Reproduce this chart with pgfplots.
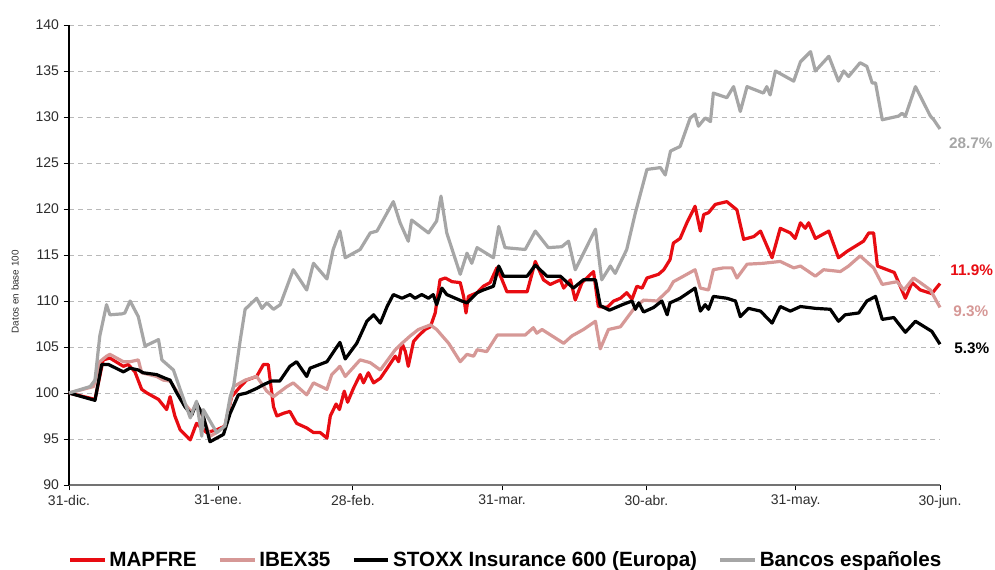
\documentclass[border=0pt]{standalone}
\usepackage{fontspec}
\setmainfont{Liberation Sans}
\usepackage{pgfplots}
\pgfplotsset{compat=1.18}
\definecolor{mapfre}{RGB}{232,12,18}
\definecolor{ibex}{RGB}{214,152,150}
\definecolor{stoxx}{RGB}{0,0,0}
\definecolor{bancos}{RGB}{166,166,166}
\definecolor{gridc}{RGB}{185,185,185}
\definecolor{txt}{RGB}{45,45,45}
\begin{document}
\begin{tikzpicture}
\path[use as bounding box] (0pt,0pt) rectangle (746.25pt,427.5pt);
\begin{axis}[
  at={(51.75pt,63.75pt)}, anchor=south west,
  scale only axis, width=653.25pt, height=345pt,
  xmin=0, xmax=181, ymin=90, ymax=140,
  enlargelimits=false, clip=false,
  axis x line*=bottom, axis y line*=left,
  x axis line style={-, draw=black!55, line width=0.8pt},
  y axis line style={-, draw=black, line width=0.8pt},
  tick align=outside, major tick length=4pt,
  every tick/.style={black, line width=0.7pt},
  xtick={0,31,59,90,120,151,181},
  xticklabels={31-dic.,31-ene.,28-feb.,31-mar.,30-abr.,31-may.,30-jun.},
  ytick={90,95,...,140},
  ymajorgrids, grid style={gridc, line width=0.6pt, dash pattern=on 3.8pt off 3pt},
  /pgf/number format/assume math mode=true,
  tick label style={font=\fontsize{10.5}{12}\selectfont, text=txt},
  ylabel={Datos en base 100},
  ylabel style={at={(axis description cs:-0.062,0.42)}, anchor=center, font=\fontsize{7.4}{8.5}\selectfont, text=txt},
  legend style={at={(0.5017,-0.163)}, anchor=center, draw=none, fill=none,
    font=\bfseries\fontsize{15.5}{17}\selectfont,
    /tikz/every even column/.append style={column sep=14pt}},
  legend columns=4, legend cell align=left,
  legend image code/.code={\draw[#1, line width=3pt] (0pt,0pt) -- (26pt,0pt);},
  every axis plot/.append style={line width=2.4pt, line join=round, no marks},
]
\addplot[mapfre] coordinates {
(0,100) (5.4,99.3) (7.1,103.6) (8.5,103.8) (11.3,102.9) (12.3,103.1) (13.7,102.3)
(15.1,100.4) (16.2,100.0) (18.6,99.3) (20.3,98.2) (21.0,99.6) (22.0,97.5) (23.1,96.0)
(25.2,94.9) (26.5,96.7) (28.6,95.7) (30.7,96.0) (32.4,96.4) (33.8,99.6) (35.6,100.7)
(36.9,101.4) (39.0,101.8) (40.4,103.1) (41.4,103.1) (42.5,98.5) (43.2,97.5) (44.6,97.8)
(45.9,98.0) (47.3,96.7) (49.4,96.2) (50.8,95.7) (52.2,95.7) (53.6,95.1) (54.3,97.5)
(55.5,98.8) (56.2,98.2) (57.2,100.2) (57.9,99.0) (59.1,100.5) (60.5,102.0) (61.2,101.1)
(62.2,102.2) (63.3,101.1) (64.7,101.6) (66.4,102.9) (67.8,104.0) (68.5,103.4) (69.2,105.4)
(69.9,104.5) (70.5,102.9) (71.6,105.6) (72.6,106.2) (74.0,106.9) (75.1,107.2) (76.1,108.7)
(77.1,112.3) (78.2,112.5) (79.6,112.1) (81.3,112.0) (82.0,110.5) (82.5,108.7) (83.0,110.5)
(84.8,110.9) (86.1,111.6) (87.5,112.0) (88.9,113.6) (90.0,112.3) (91.0,111.0) (95.2,111.0)
(96.9,114.3) (98.6,112.3) (100.0,111.8) (102.1,112.3) (102.8,111.4) (104.2,112.3) (105.2,110.1)
(106.6,112.0) (109.0,113.2) (110.0,109.4) (111.8,109.3) (113.2,110.0) (114.6,110.3) (115.9,110.9)
(117.0,110.2) (118.0,111.6) (119.1,111.4) (120.1,112.5) (122.5,112.9) (123.6,113.4) (124.9,114.5)
(125.6,116.3) (127.0,116.8) (128.4,118.5) (130.1,120.3) (131.2,117.6) (131.9,119.4) (132.9,119.6)
(134.3,120.5) (136.7,120.8) (138.8,119.9) (140.2,116.7) (142.3,117.0) (143.7,117.6) (146.1,114.7)
(147.8,117.9) (149.9,117.4) (150.9,116.8) (152.0,118.5) (153.0,117.9) (153.7,118.5) (155.1,116.8)
(157.9,117.6) (159.9,114.7) (161.7,115.4) (165.1,116.5) (166.2,117.4) (167.2,117.4) (168.0,113.8)
(171.5,113.1) (173.8,110.3) (175.2,112.0) (176.9,111.2) (179.3,110.8) (181,111.9)
};
\addlegendentry{MAPFRE}
\addplot[ibex] coordinates {
(0,100) (5.1,100.7) (6.4,103.4) (7.8,104.0) (8.5,104.2) (11.3,103.4) (12.7,103.4) (14.4,103.6)
(15.1,102.2) (18.2,101.8) (19.6,101.4) (21.0,101.3) (22.4,100.2) (24.1,98.8) (25.5,97.9)
(26.5,98.9) (27.9,97.3) (29.3,95.3) (30.7,95.7) (32.4,96.4) (34.2,100.7) (36.6,101.4)
(39.0,101.8) (41.1,100.2) (42.5,99.6) (45.3,100.7) (46.6,101.1) (49.4,99.8) (50.8,101.1)
(53.6,100.4) (54.6,102.0) (56.3,102.9) (57.4,101.8) (60.5,103.6) (62.6,103.3) (64.7,102.5)
(67.8,104.7) (69.2,105.4) (70.9,106.2) (72.6,106.9) (75.1,107.4) (76.4,106.9) (78.9,105.4)
(81.3,103.4) (82.7,104.2) (84.1,104.0) (84.8,104.7) (86.8,104.5) (89.0,106.3) (94.8,106.3)
(96.5,107.1) (97.2,106.5) (98.3,106.9) (102.8,105.4) (104.5,106.2) (106.9,106.9) (109.4,107.8)
(110.4,104.8) (112.1,106.9) (114.6,107.2) (117.3,109.1) (119.4,110.1) (122.2,110.0) (124.6,111.2)
(125.6,112.1) (127.7,112.7) (130.1,113.4) (131.2,111.4) (132.9,111.2) (133.9,113.4) (136.0,113.6)
(137.8,113.6) (138.8,112.5) (140.9,114.0) (144.3,114.1) (147.8,114.3) (150.6,113.6) (152.0,113.8)
(155.1,112.7) (156.8,113.4) (160.3,113.2) (162.0,113.8) (164.4,114.9) (167.2,113.6) (169.0,111.8)
(172.1,112.1) (173.5,111.2) (175.5,112.5) (176.9,112.0) (179.0,111.2) (181,109.3)
};
\addlegendentry{IBEX35}
\addplot[stoxx] coordinates {
(0,100) (5.4,99.2) (6.8,103.1) (8.2,103.1) (11.3,102.3) (12.7,102.7) (14.4,102.5) (15.4,102.2)
(18.2,102.0) (20.0,101.6) (21.0,101.4) (22.4,100.0) (24.1,98.5) (25.5,97.6) (26.5,98.9)
(27.9,97.5) (29.3,94.7) (30.7,95.1) (32.1,95.5) (33.5,97.8) (35.2,99.8) (36.9,100.0)
(39.0,100.5) (40.4,100.9) (42.1,101.3) (43.8,101.3) (45.9,102.9) (47.3,103.4) (49.4,101.8)
(50.1,102.7) (53.6,103.4) (56.3,105.5) (57.4,103.7) (59.8,105.4) (61.9,107.8) (63.3,108.5)
(64.7,107.6) (66.1,109.4) (67.4,110.7) (69.2,110.3) (70.9,110.7) (71.9,110.3) (73.3,110.7)
(74.7,110.3) (75.7,110.7) (76.4,109.6) (77.5,111.4) (78.5,110.7) (81.6,110.0) (82.7,109.8)
(84.8,110.9) (86.1,111.2) (88.2,111.6) (89.3,113.8) (90.3,112.7) (95.2,112.7) (96.9,113.9)
(99.3,112.7) (102.1,112.7) (104.8,111.4) (106.9,112.3) (109.4,112.3) (110.4,109.5) (112.3,109.0)
(115.0,109.6) (117.0,110.0) (117.7,109.1) (118.4,109.8) (119.4,108.8) (121.5,109.3) (123.2,110.0)
(124.3,108.5) (124.9,109.8) (127.0,110.3) (130.1,111.4) (131.2,108.9) (132.2,109.6) (132.9,109.1)
(133.9,110.5) (136.7,110.3) (138.5,110.0) (139.5,108.3) (141.2,109.2) (143.7,108.9) (146.1,107.6)
(147.8,109.4) (149.9,108.9) (152.0,109.4) (155.1,109.2) (158.2,109.1) (159.9,107.8) (161.3,108.5)
(164.1,108.7) (165.8,110.0) (167.6,110.5) (169.0,108.0) (171.4,108.2) (173.8,106.6) (175.9,107.8)
(179.3,106.7) (181,105.3)
};
\addlegendentry{STOXX Insurance 600 (Europa)}
\addplot[bancos] coordinates {
(0,100) (4.4,100.7) (5.4,101.4) (6.4,106.2) (7.8,109.6) (8.5,108.5) (11.0,108.6) (11.6,108.7)
(12.7,110.0) (14.4,108.3) (15.8,105.1) (18.6,105.8) (19.3,103.6) (21.7,102.5) (23.1,100.4)
(25.2,97.3) (26.5,99.1) (27.6,95.3) (27.9,98.2) (30.7,95.7) (32.4,96.4) (33.5,99.6) (34.2,100.7)
(35.6,105.8) (36.6,109.1) (39.0,110.3) (40.1,109.2) (41.1,109.8) (42.5,109.1) (43.9,109.6)
(46.6,113.4) (49.4,111.2) (50.8,114.1) (53.6,112.4) (54.9,115.6) (56.3,117.6) (57.4,114.7)
(60.5,115.6) (62.6,117.4) (64.0,117.6) (67.4,120.8) (68.8,118.5) (70.5,116.5) (71.2,118.8)
(74.7,117.4) (76.4,118.7) (77.3,121.4) (78.5,117.4) (81.3,112.9) (82.7,115.2) (83.7,114.1)
(84.8,115.8) (88.2,114.7) (89.3,118.1) (90.6,115.8) (94.8,115.6) (96.9,117.6) (99.6,115.8)
(102.4,115.9) (103.8,116.5) (105.2,113.4) (109.4,117.8) (110.7,112.3) (112.5,113.8) (113.5,113.0)
(115.9,115.6) (117.7,119.6) (120.1,124.3) (122.9,124.5) (123.9,123.7) (125.0,126.3) (127.0,126.8)
(129.1,129.9) (130.1,130.3) (130.8,129.0) (132.2,129.9) (133.3,129.5) (133.9,132.6) (136.7,132.1)
(138.1,133.3) (139.5,130.6) (140.9,133.3) (144.3,132.6) (145.0,133.3) (145.7,132.4) (146.8,135.0)
(150.6,133.9) (152.0,136.0) (154.1,137.1) (155.1,135.0) (157.9,136.6) (159.9,133.9) (161.0,135.0)
(162.0,134.4) (164.4,135.9) (165.8,135.5) (166.9,133.7) (167.6,133.7) (169.0,129.7) (172.4,130.1)
(173.1,130.4) (173.8,130.1) (175.9,133.3) (179.0,130.1) (179.7,129.7) (181,128.7)
};
\addlegendentry{Bancos españoles}
\node[text=bancos, font=\bfseries\fontsize{11.5}{13}\selectfont, inner sep=0pt] at (axis cs:187.4,127.2) {28.7\%};
\node[text=mapfre, font=\bfseries\fontsize{11.5}{13}\selectfont, inner sep=0pt] at (axis cs:187.6,113.3) {11.9\%};
\node[text=ibex, font=\bfseries\fontsize{11.5}{13}\selectfont, inner sep=0pt] at (axis cs:187.4,108.9) {9.3\%};
\node[text=stoxx, font=\bfseries\fontsize{11.5}{13}\selectfont, inner sep=0pt] at (axis cs:187.6,104.9) {5.3\%};
\end{axis}
\end{tikzpicture}
\end{document}
